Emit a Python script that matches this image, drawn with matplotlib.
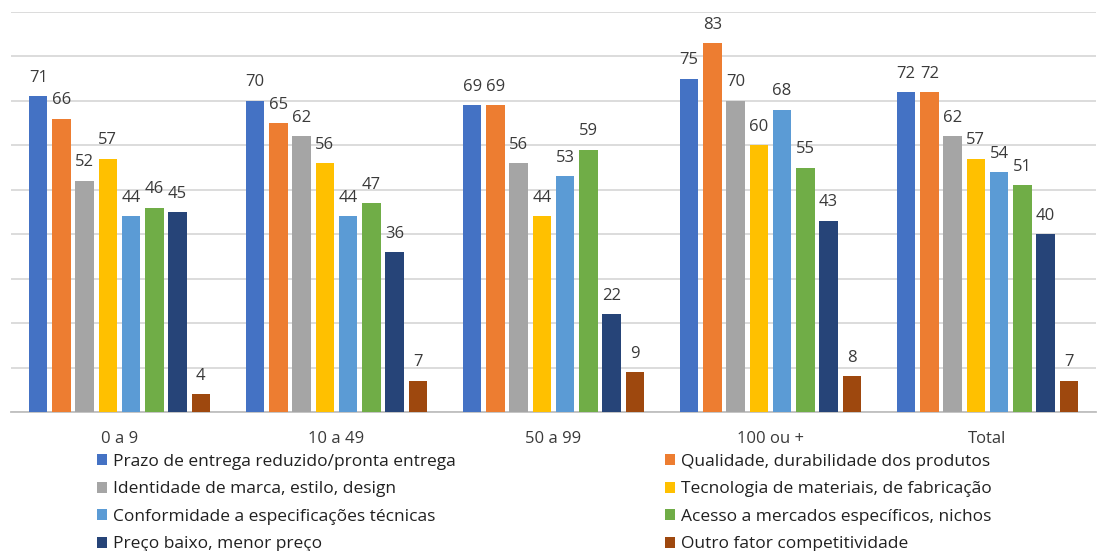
import matplotlib
matplotlib.use("Agg")
import matplotlib.pyplot as plt
from matplotlib.patches import Patch
import numpy as np

plt.rcParams['font.family'] = ['Open Sans', 'DejaVu Sans']

categories = ["0 a 9", "10 a 49", "50 a 99", "100 ou +", "Total"]
series_names = [
    "Prazo de entrega reduzido/pronta entrega",
    "Qualidade, durabilidade dos produtos",
    "Identidade de marca, estilo, design",
    "Tecnologia de materiais, de fabricação",
    "Conformidade a especificações técnicas",
    "Acesso a mercados específicos, nichos",
    "Preço baixo, menor preço",
    "Outro fator competitividade",
]
prazo = [71, 70, 69, 75, 72]
qualidade = [66, 65, 69, 83, 72]
identidade = [52, 62, 56, 70, 62]
tecnologia = [57, 56, 44, 60, 57]
conformidade = [44, 44, 53, 68, 54]
acesso = [46, 47, 59, 55, 51]
preco = [45, 36, 22, 43, 40]
outro = [4, 7, 9, 8, 7]
series_values = [prazo, qualidade, identidade, tecnologia,
                 conformidade, acesso, preco, outro]
colors = ["#4472C4", "#ED7D31", "#A5A5A5", "#FFC000",
          "#5B9BD5", "#70AD47", "#264478", "#9E480E"]

fig = plt.figure(figsize=(11.02, 5.51), dpi=100)
ax = fig.add_axes([11 / 1102, (551 - 412) / 551, 1085 / 1102, 400 / 551])

x = np.arange(len(categories))
step = 0.107
width = 0.085
text_color = "#3a3a3a"

for j, (vals, col) in enumerate(zip(series_values, colors)):
    pos = x + (j - 3.5) * step
    bars = ax.bar(pos, vals, width=width, color=col, zorder=3)
    for b, v in zip(bars, vals):
        ax.annotate(str(v), (b.get_x() + b.get_width() / 2, v),
                    xytext=(0, 7.5), textcoords="offset points",
                    ha="center", va="bottom", fontsize=12, color=text_color)

ax.set_xlim(-0.5, len(categories) - 0.5)
ax.set_ylim(0, 90)
ax.set_yticks(np.arange(0, 91, 10))
ax.yaxis.grid(True, color="#D9D9D9", linewidth=1.3, zorder=0)
ax.tick_params(axis="y", left=False, labelleft=False)
ax.tick_params(axis="x", bottom=False, labelsize=12, labelcolor=text_color, pad=10)
ax.set_xticks(x)
ax.set_xticklabels(categories)
for s in ["top", "right", "left"]:
    ax.spines[s].set_visible(False)
ax.spines["bottom"].set_color("#BFBFBF")
ax.spines["bottom"].set_linewidth(1.3)

handles = [Patch(facecolor=c) for c in colors]
leg_kw = dict(frameon=False, fontsize=12.5, handlelength=0.6, handleheight=0.6,
              handletextpad=0.35, labelspacing=0.66, borderpad=0, borderaxespad=0,
              labelcolor="#202020")
leg1 = fig.legend([handles[i] for i in (0, 2, 4, 6)],
                  [series_names[i] for i in (0, 2, 4, 6)],
                  loc="upper left", bbox_to_anchor=(97 / 1102, 1 - 454 / 551), **leg_kw)
leg2 = fig.legend([handles[i] for i in (1, 3, 5, 7)],
                  [series_names[i] for i in (1, 3, 5, 7)],
                  loc="upper left", bbox_to_anchor=(665 / 1102, 1 - 454 / 551), **leg_kw)

fig.savefig("out.png", dpi=100)
